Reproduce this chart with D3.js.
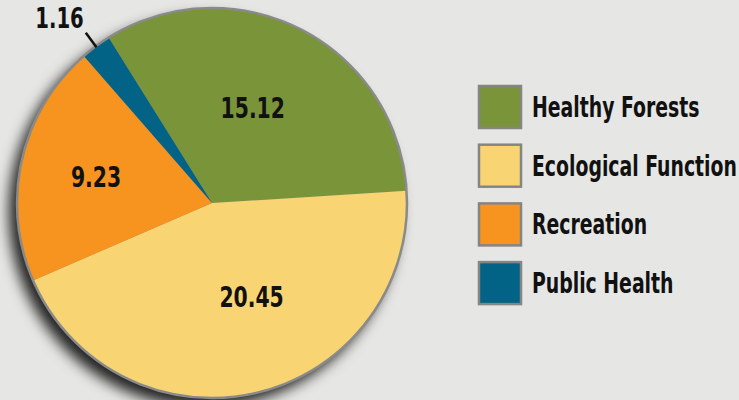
<!DOCTYPE html>
<html><head><meta charset="utf-8">
<script src="https://cdn.jsdelivr.net/npm/d3@7"></script>
<style>
html,body{margin:0;padding:0;background:#e6e6e4;}
svg{display:block;}
text{font-family:"DejaVu Sans","Liberation Sans",sans-serif;font-stretch:condensed;font-weight:bold;fill:#111;}
</style></head>
<body>
<svg id="chart" width="739" height="400"></svg>
<script>
const categories = ["Healthy Forests", "Ecological Function", "Recreation", "Public Health"];
const values = [15.12, 20.45, 9.23, 1.16];
const labels = ["15.12", "20.45", "9.23", "1.16"];
const colors = ["#7a943a", "#f8d572", "#f79420", "#036386"];

const W = 739, H = 400;
const cx = 212, cy = 203, R = 195;
const svg = d3.select("#chart");
svg.append("rect").attr("width", W).attr("height", H).attr("fill", "#e6e6e4");

const defs = svg.append("defs");
const f = defs.append("filter").attr("id", "shadow").attr("x", "-20%").attr("y", "-20%").attr("width", "140%").attr("height", "140%");
f.append("feDropShadow").attr("dx", -8).attr("dy", 9).attr("stdDeviation", 7)
  .attr("flood-color", "#000").attr("flood-opacity", 0.85);

const start = -32 * Math.PI / 180;
const pie = d3.pie().sort(null).value(d => d)
  .startAngle(start).endAngle(start + 2 * Math.PI);
const arcs = pie(values);
const arc = d3.arc().innerRadius(0).outerRadius(R);

const g = svg.append("g").attr("transform", `translate(${cx},${cy})`);
g.append("circle").attr("r", R).attr("fill", "#888").attr("filter", "url(#shadow)");
g.selectAll("path.slice").data(arcs).enter().append("path")
  .attr("class", "slice")
  .attr("d", arc)
  .attr("fill", (d, i) => colors[i]);
g.append("circle").attr("r", R).attr("fill", "none").attr("stroke", "#8a8a8a").attr("stroke-width", 2.5);

const SX = 0.78;
function condense(sel) {
  sel.each(function () {
    const t = d3.select(this);
    const x = +t.attr("x"), y = +t.attr("y");
    t.attr("transform", `translate(${x},${y}) scale(${SX},1) translate(${-x},${-y})`);
  });
}

const tweak = [-4, -9.5, 0, 0];
const radF = [0.53, 0.52, 0.61, 0];
arcs.forEach((d, i) => {
  if (i === 3) return;
  const mid = (d.startAngle + d.endAngle) / 2 + tweak[i] * Math.PI / 180;
  const r = R * radF[i];
  g.append("text")
    .attr("x", r * Math.sin(mid))
    .attr("y", -r * Math.cos(mid))
    .attr("dy", "0.36em")
    .attr("text-anchor", "middle")
    .attr("font-size", 29)
    .text(labels[i]).call(condense);
});
{
  const d = arcs[3];
  const mid = (d.startAngle + d.endAngle) / 2;
  const p = r => [r * Math.sin(mid), -r * Math.cos(mid)];
  const a = p(R - 1), b = p(R + 17);
  g.append("line").attr("x1", a[0]).attr("y1", a[1]).attr("x2", b[0]).attr("y2", b[1])
    .attr("stroke", "#111").attr("stroke-width", 2.5);
  g.append("text").attr("x", b[0] - 2).attr("y", b[1] - 5)
    .attr("text-anchor", "end").attr("font-size", 28).text(labels[3]).call(condense);
}

const leg = svg.append("g").attr("transform", "translate(478,85)");
const items = leg.selectAll("g").data(categories).enter().append("g")
  .attr("transform", (d, i) => `translate(0,${i * 58.7})`);
items.append("rect").attr("x", 1).attr("y", 1).attr("width", 42).attr("height", 42)
  .attr("fill", (d, i) => colors[i]).attr("stroke", "#858585").attr("stroke-width", 2.5);
const lt = items.append("text").attr("x", 54).attr("y", 22).attr("dy", "0.36em")
  .attr("font-size", 28).text(d => d);
const ecoNode = lt.filter(d => d === "Ecological Function").node();
const natural = ecoNode.getComputedTextLength();
const sx = Math.min(1, 205 / natural);
lt.attr("transform", `translate(54,22) scale(${sx},1) translate(-54,-22)`);
</script>
</body></html>
